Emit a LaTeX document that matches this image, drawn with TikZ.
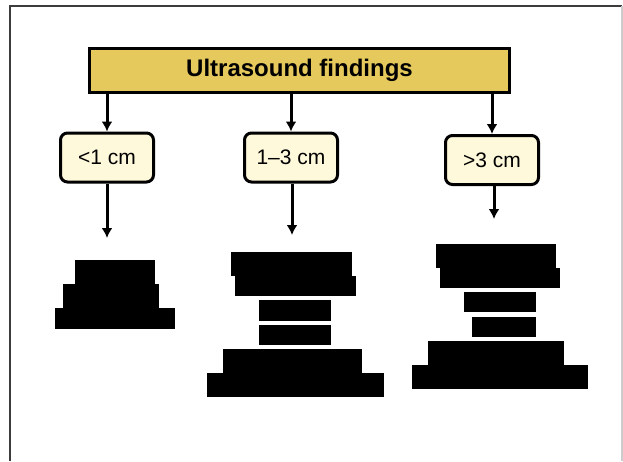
\documentclass[tikz,border=0pt]{standalone}
\usepackage{fontspec}
\setmainfont{Liberation Sans}
\usetikzlibrary{arrows.meta}
\definecolor{hdc}{RGB}{229,201,92}
\definecolor{szc}{RGB}{255,249,219}
\definecolor{frc}{RGB}{60,60,60}

\begin{document}
\begin{tikzpicture}[x=1pt, y=-1pt, header/.style={rectangle, draw, line width=3pt, fill=hdc, minimum width=420pt, minimum height=44pt, font=\fontsize{24}{26}\selectfont\bfseries}, sizebox/.style={rectangle, rounded corners=7pt, draw, line width=3pt, fill=szc, minimum width=93pt, minimum height=49pt, font=\fontsize{21}{23}\selectfont}, link/.style={line width=3pt, -{Latex[length=10pt,width=11pt]}}, redact/.style={fill=black}]

    \useasboundingbox (0,0) rectangle (623,461);
    \draw[frc, line width=1.5pt] (10,461) -- (10,6) -- (622,6);
    \draw[gray!40, line width=1.5pt] (622,6) -- (622,461);

    \node[header] (title) at (299.5,70.5) {Ultrasound findings};
    \node[sizebox] (small) at (107,157.5) {<1 cm};
    \node[sizebox] (mid) at (291,157.5) {1--3 cm};
    \node[sizebox] (large) at (492,160) {>3 cm};
    \coordinate (smallend) at (107,238);
    \coordinate (midend) at (292,235);
    \coordinate (largeend) at (494,219);

    \draw[link] (title.south -| small) -- (small);
    \draw[link] (title.south -| mid) -- (mid);
    \draw[link] (title.south -| large) -- (large);
    \draw[link] (small) -- (smallend);
    \draw[link] (mid.south -| midend) -- (midend);
    \draw[link] (large.south -| largeend) -- (largeend);

    % blacked-out text under each size class
    \foreach \xa/\ya/\xb/\yb in {75/260/155/284, 63/284/159/308, 55/308/175/329,
        231/252/352/276, 235/276/356/296, 259/300/331/321, 259/325/331/345, 223/349/362/373, 207/373/384/397,
        436/244/556/268, 440/268/560/288, 464/292/536/312, 472/317/536/337, 428/341/564/365, 412/365/588/389}
      \path[redact] (\xa,\ya) rectangle (\xb,\yb);

\end{tikzpicture}
\end{document}
